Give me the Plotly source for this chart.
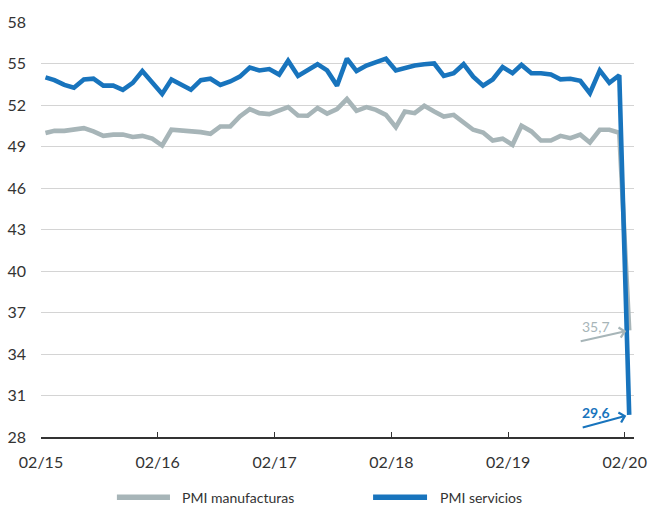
import pandas as pd
import plotly.graph_objects as go

# Monthly PMI, 02/2015 .. 02/2020 (mid-month positions)
months = pd.date_range("2015-02-01", "2020-02-01", freq="MS") + pd.Timedelta(days=14)

pmi_manufacturas = [
    49.97, 50.13, 50.13, 50.21, 50.33, 50.09, 49.77, 49.86, 49.86, 49.69,
    49.77, 49.57, 49.07, 50.21, 50.16, 50.13, 50.04, 49.92, 50.45, 50.45,
    51.17, 51.70, 51.41, 51.34, 51.65, 51.85, 51.24, 51.22, 51.78, 51.38,
    51.70, 52.43, 51.58, 51.85, 51.65, 51.29, 50.40, 51.53, 51.41, 51.94,
    51.53, 51.17, 51.29, 50.74, 50.21, 50.01, 49.43, 49.57, 49.12, 50.50,
    50.09, 49.43, 49.43, 49.77, 49.60, 49.86, 49.29, 50.21, 50.21, 50.00,
    35.7,
]
pmi_servicios = [
    54.0, 53.8, 53.45, 53.25, 53.85, 53.9, 53.4, 53.4, 53.1, 53.6,
    54.45, 53.6, 52.8, 53.85, 53.45, 53.1, 53.8, 53.9, 53.45, 53.7,
    54.05, 54.7, 54.5, 54.6, 54.2, 55.2, 54.1, 54.55, 54.95, 54.5,
    53.4, 55.35, 54.45, 54.85, 55.1, 55.35, 54.5, 54.7, 54.85, 54.95,
    55.0, 54.1, 54.3, 54.95, 54.05, 53.4, 53.85, 54.75, 54.3, 54.9,
    54.3, 54.3, 54.2, 53.85, 53.9, 53.75, 52.85, 54.5, 53.6, 54.15,
    29.6,
]
series_names = ["PMI manufacturas", "PMI servicios"]

tick_dates = ["2015-02-01", "2016-02-01", "2017-02-01", "2018-02-01", "2019-02-01", "2020-02-01"]
tick_labels = ["02/15", "02/16", "02/17", "02/18", "02/19", "02/20"]
y_ticks = [28, 31, 34, 37, 40, 43, 46, 49, 52, 55, 58]

GRAY = "#a7b5b8"
BLUE = "#1874bd"
FONT = "Lato"

fig = go.Figure()
fig.add_trace(go.Scatter(x=months, y=pmi_manufacturas, mode="lines", name=series_names[0],
                         line=dict(color=GRAY, width=4.6)))
fig.add_trace(go.Scatter(x=months, y=pmi_servicios, mode="lines", name=series_names[1],
                         line=dict(color=BLUE, width=4.6)))

last = months[-1]
# arrows
fig.add_annotation(x=last, y=pmi_manufacturas[-1], ax=-50, ay=11, text="", showarrow=True,
                   arrowhead=4, arrowsize=1, arrowwidth=2, arrowcolor=GRAY, standoff=3)
fig.add_annotation(x=last, y=pmi_servicios[-1], ax=-48, ay=13, text="", showarrow=True,
                   arrowhead=4, arrowsize=1, arrowwidth=2, arrowcolor=BLUE, standoff=3)
# value labels
fig.add_annotation(x=last, y=pmi_manufacturas[-1], text="35,7", showarrow=False,
                   xshift=-33, yshift=4, font=dict(family=FONT, size=14, color=GRAY))
fig.add_annotation(x=last, y=pmi_servicios[-1], text="<b>29,6</b>", showarrow=False,
                   xshift=-33, yshift=2, font=dict(family=FONT, size=14, color=BLUE))

# legend (drawn below the plot: sample line + label)
legend_y = -0.145
for name, color, x0, x1, xt in [(series_names[0], GRAY, 0.128, 0.2175, 0.2344),
                                (series_names[1], BLUE, 0.560, 0.651, 0.6695)]:
    fig.add_shape(type="line", xref="paper", yref="paper", x0=x0, x1=x1, y0=legend_y, y1=legend_y,
                  line=dict(color=color, width=5.5))
    fig.add_annotation(xref="paper", yref="paper", x=xt, y=legend_y, text=name, showarrow=False,
                       xanchor="left", yanchor="middle",
                       font=dict(family=FONT, size=14, color="#333333"))

fig.update_layout(
    width=651, height=507,
    margin=dict(l=41, r=17, t=22, b=70, autoexpand=False),
    paper_bgcolor="white", plot_bgcolor="white",
    font=dict(family=FONT, size=16, color="#333333"),
    showlegend=False,
    xaxis=dict(type="date", range=["2015-02-01", "2020-03-01"], tickvals=tick_dates,
               ticktext=tick_labels, showgrid=False, showline=True, linecolor="#333333",
               linewidth=1.5, ticks="inside", ticklen=5, tickwidth=1.2, tickcolor="#333333",
               ticklabelstandoff=10, zeroline=False),
    yaxis=dict(range=[28, 58], tickvals=y_ticks, showgrid=True, gridcolor="#d4d4d4",
               gridwidth=1, showline=False, zeroline=False, ticks="", ticklabelstandoff=14),
)

# remove the default page margin so the figure fills the 651x507 window
fig.write_html("out.html", config={"displayModeBar": False},
               post_script="document.body.style.margin='0';document.body.style.overflow='hidden';")
